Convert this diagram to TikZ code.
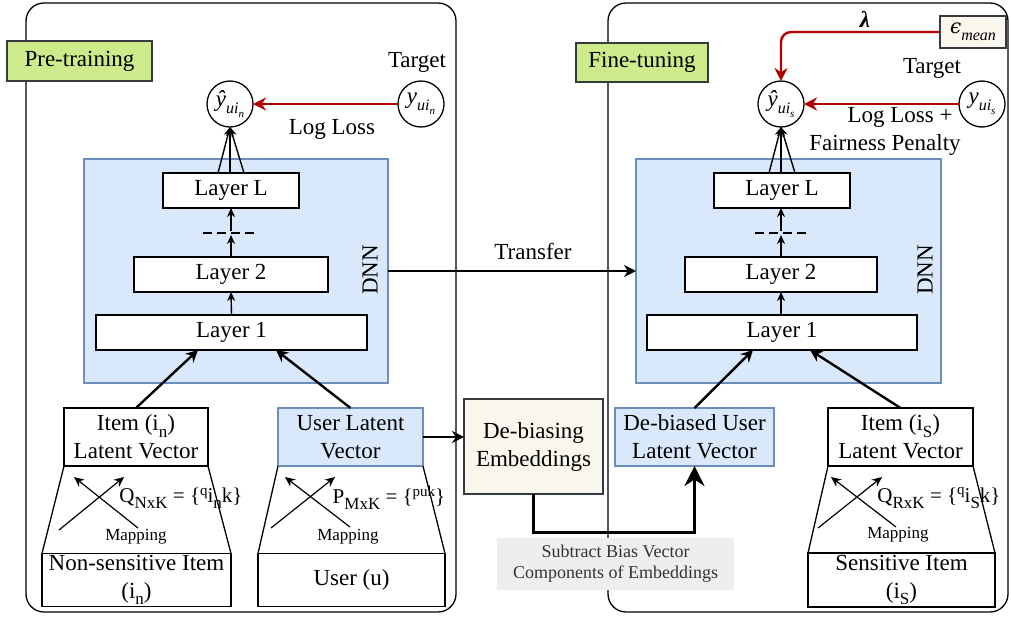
\documentclass[tikz,border=0pt]{standalone}
\usepackage{fontspec}
\setmainfont{Liberation Serif}
\newfontfamily\dvserif{DejaVu Serif}
\usetikzlibrary{arrows.meta,calc}
\definecolor{greenF}{HTML}{CDEB8B}
\definecolor{darkD}{HTML}{36393D}
\definecolor{blueF}{HTML}{DAE8FC}
\definecolor{blueD}{HTML}{6C8EBF}
\definecolor{beigeF}{HTML}{F9F7ED}
\definecolor{redL}{HTML}{B20000}
\definecolor{grayF}{HTML}{EEEEEE}
\definecolor{grayT}{HTML}{333333}
\newcommand\sbs[1]{\raisebox{-0.28em}{\fontsize{17}{17}\selectfont #1}}
\newcommand\sps[1]{\raisebox{0.35em}{\fontsize{15}{15}\selectfont #1}}
\newcommand\isb[1]{\raisebox{-0.3em}{\fontsize{16}{16}\selectfont\itshape #1}}
\newcommand\iisb[1]{\raisebox{-0.25em}{\fontsize{11}{11}\selectfont\itshape #1}}
\begin{document}
\begin{tikzpicture}[x=1pt,y=-1pt,
  every node/.style={font=\fontsize{23}{28}\selectfont, inner sep=0pt, outer sep=0pt},
  panel/.style={draw=black, line width=1.3pt, rounded corners=18pt},
  whitebox/.style={draw=black, line width=1.3pt, fill=white, align=center},
  bluebox/.style={draw=blueD, line width=1.3pt, fill=blueF, align=center},
  beigebox/.style={draw=darkD, line width=1.3pt, fill=beigeF, align=center},
  greenbox/.style={draw=darkD, line width=1.3pt, fill=greenF, align=center},
  circ/.style={draw=black, line width=1.3pt, circle, minimum size=46pt},
  smallarr/.style={line width=1.4pt, -{Stealth[length=9pt,width=8pt]}},
  maparr/.style={line width=1.2pt, -{Stealth[length=10pt,width=9pt]}},
  inarr/.style={line width=2.4pt, -{Stealth[length=12pt,width=12pt]}},
  redarr/.style={draw=redL, line width=2.4pt, -{Stealth[length=13pt,width=13pt]}},
  thickarr/.style={line width=3pt, -{Stealth[length=20pt,width=20pt]}},
  maptxt/.style={font=\fontsize{17}{20}\selectfont},
  qtxt/.style={font=\fontsize{21}{24}\selectfont},
  dashsep/.style={line width=2pt, dash pattern=on 9pt off 5pt}
]
\useasboundingbox (0,0) rectangle (1011,619);

% panels
\node[panel, minimum width=430pt, minimum height=609pt] (panelL) at (241,307.5) {};
\node[panel, minimum width=400pt, minimum height=609pt] (panelR) at (808,307.5) {};

% ---------- left: pre-training ----------
\node[greenbox, minimum width=145pt, minimum height=40pt] (pre) at (79.5,61) {Pre-training};
\node (targL) at (417,62) {Target};
\node[circ] (yhatL) at (230,104) {\textit{ŷ}\isb{ui\iisb{n}}};
\node[circ] (yL) at (421,104) {\textit{y}\isb{ui\iisb{n}}};
\node (llL) at (332,129) {Log Loss};

\node[bluebox, minimum width=304pt, minimum height=224pt] (dnnL) at (236,271) {};
\node[rotate=90] (dnnLt) at (370,270) {DNN};
\node[whitebox, minimum width=136pt, minimum height=35pt] (layLL) at (231,190.5) {Layer L};
\node[whitebox, minimum width=194pt, minimum height=35pt] (lay2L) at (231,274.5) {Layer 2};
\node[whitebox, minimum width=271pt, minimum height=35pt] (lay1L) at (231.5,332.5) {Layer 1};
\coordinate (dLa) at (203,233);
\coordinate (dLb) at (257,233);
\coordinate (dLc) at (231,235);
\coordinate (dLd) at (231,231);
\draw[dashsep] (dLa) -- (dLb);
\draw[smallarr] (lay1L.north) -- (lay2L.south);
\draw[smallarr] (lay2L.north) -- (dLc);
\draw[smallarr] (dLd) -- (layLL.south);
\draw[smallarr] ([xshift=-13pt]layLL.north) -- (yhatL.south);
\draw[smallarr] (layLL.north -| yhatL.south) -- (yhatL.south);
\draw[smallarr] ([xshift=13pt]layLL.north) -- (yhatL.south);
\draw[redarr] (yL.west) -- (yhatL.east);

\node[whitebox, minimum width=144pt, minimum height=58pt] (itemL) at (136,437) {Item (i\sbs{n})\\Latent Vector};
\node[whitebox, minimum width=189pt, minimum height=53pt] (nsL) at (136.5,580) {Non-sensitive Item\\(i\sbs{n})};
\draw[line width=1.3pt] (itemL.south west) -- (nsL.north west);
\draw[line width=1.3pt] (itemL.south east) -- (nsL.north east);
\coordinate (mLa1) at (59,530); \coordinate (mLa2) at (124,477);
\coordinate (mLb1) at (138,528); \coordinate (mLb2) at (74,477);
\draw[maparr] (mLa1) -- (mLa2);
\draw[maparr] (mLb1) -- (mLb2);
\node[qtxt] (qL) at (181,498) {Q\sbs{NxK} = \{\sps{q}i\sbs{n}k\}};
\node[maptxt] (mapL) at (136,537) {Mapping};

\node[bluebox, minimum width=145pt, minimum height=58pt] (userLV) at (350.5,437) {User Latent\\Vector};
\node[whitebox, minimum width=187pt, minimum height=53pt] (userB) at (351.5,580) {User (u)};
\draw[line width=1.3pt] (userLV.south west) -- (userB.north west);
\draw[line width=1.3pt] (userLV.south east) -- (userB.north east);
\coordinate (mUa1) at (271,528); \coordinate (mUa2) at (335,477);
\coordinate (mUb1) at (350,527); \coordinate (mUb2) at (285,477);
\draw[maparr] (mUa1) -- (mUa2);
\draw[maparr] (mUb1) -- (mUb2);
\node[qtxt] (pU) at (389,498) {P\sbs{MxK} = \{\sps{puk}\}};
\node[maptxt] (mapU) at (348,537) {Mapping};

\draw[inarr] (itemL.north) -- ([xshift=-33.5pt]lay1L.south);
\draw[inarr] (userLV.north) -- ([xshift=44.5pt]lay1L.south);

% ---------- middle ----------
\node[beigebox, minimum width=139pt, minimum height=95pt] (debias) at (533.5,446.5) {De-biasing\\Embeddings};
\draw[inarr] (userLV.east) -- (userLV.east -| debias.west);

% ---------- right: fine-tuning ----------
\node[greenbox, minimum width=132pt, minimum height=39pt] (fine) at (642,62.5) {Fine-tuning};
\node[beigebox, minimum width=66pt, minimum height=32pt] (eps) at (973,32) {{\dvserif\itshape\fontsize{20}{20}\selectfont ϵ}\isb{mean}};
\node (lam) at (865,19) {\textit{\textbf{λ}}};
\node (targR) at (932,68) {Target};
\node[circ] (yhatR) at (781,104) {\textit{ŷ}\isb{ui\iisb{s}}};
\node[circ] (yR) at (982,104) {\textit{y}\isb{ui\iisb{s}}};
\node[align=center] (llR) at (885,131) {Log Loss +\hspace*{-30pt}\\Fairness Penalty};

\node[bluebox, minimum width=305pt, minimum height=224pt] (dnnR) at (788.5,271) {};
\node[rotate=90] (dnnRt) at (925,270) {DNN};
\node[whitebox, minimum width=136pt, minimum height=35pt] (layLR) at (782,190.5) {Layer L};
\node[whitebox, minimum width=192pt, minimum height=35pt] (lay2R) at (781,274.5) {Layer 2};
\node[whitebox, minimum width=270pt, minimum height=35pt] (lay1R) at (782,332.5) {Layer 1};
\coordinate (dRa) at (755,233);
\coordinate (dRb) at (808,233);
\coordinate (dRc) at (781,235);
\coordinate (dRd) at (781,231);
\draw[dashsep] (dRa) -- (dRb);
\draw[smallarr] (lay1R.north -| lay2R.south) -- (lay2R.south);
\draw[smallarr] (lay2R.north) -- (dRc);
\draw[smallarr] (dRd) -- (layLR.south -| dRd);
\draw[smallarr] ([xshift=-13pt]layLR.north) -- (yhatR.south);
\draw[smallarr] (layLR.north -| yhatR.south) -- (yhatR.south);
\draw[smallarr] ([xshift=13pt]layLR.north) -- (yhatR.south);
\draw[redarr] (yR.west) -- (yhatR.east);
\draw[redarr, rounded corners=10pt] (eps.west) -| (yhatR.north);

\draw[inarr] (dnnL.east) -- (dnnL.east -| dnnR.west);
\node (transfer) at (533,252) {Transfer};

\node[bluebox, minimum width=159pt, minimum height=58pt] (debiased) at (694.5,437) {De-biased User\\Latent Vector};
\node[whitebox, minimum width=145pt, minimum height=58pt] (itemR) at (900.5,437) {Item (i\sbs{S})\\Latent Vector};
\node[whitebox, minimum width=187pt, minimum height=54pt] (sR) at (901.5,580) {Sensitive Item\\(i\sbs{S})};
\draw[line width=1.3pt] (itemR.south west) -- (sR.north west);
\draw[line width=1.3pt] (itemR.south east) -- (sR.north east);
\coordinate (mRa1) at (818,528); \coordinate (mRa2) at (882,477);
\coordinate (mRb1) at (896,527); \coordinate (mRb2) at (831,477);
\draw[maparr] (mRa1) -- (mRa2);
\draw[maparr] (mRb1) -- (mRb2);
\node[qtxt] (qR) at (939,498) {Q\sbs{RxK} = \{\sps{q}i\sbs{S}k\}};
\node[maptxt] (mapR) at (898,535) {Mapping};

\draw[inarr] (debiased.north) -- ([xshift=-29pt]lay1R.south);
\draw[inarr] (itemR.north) -- ([xshift=28pt]lay1R.south);

% subtract
\node[fill=grayF, minimum width=237pt, minimum height=52pt, align=center, text=grayT, font=\fontsize{18}{21}\selectfont] (sub) at (615.5,564) {Subtract Bias Vector\\Components of Embeddings};
\draw[thickarr] (debias.south) -- ++(0,38) -| (debiased.south);
\end{tikzpicture}
\end{document}
